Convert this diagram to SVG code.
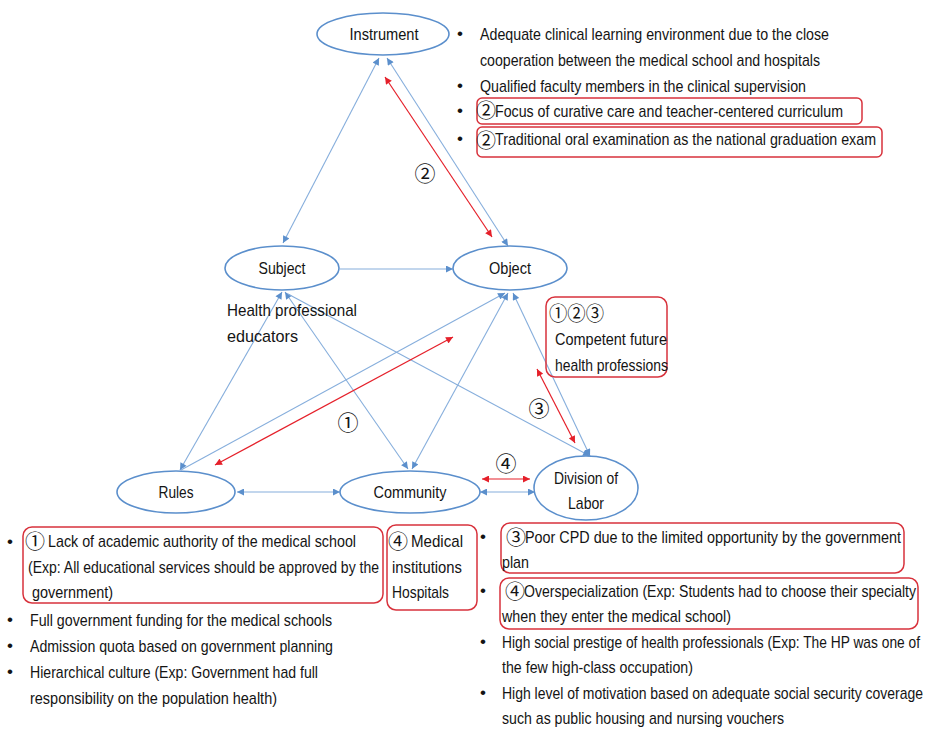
<svg xmlns="http://www.w3.org/2000/svg" width="930" height="731" viewBox="0 0 930 731">
  <style>
    text { font-family: "Liberation Sans", "Noto Sans CJK JP", sans-serif; fill: #141414; }
    .lbl { font-size: 17px; text-anchor: middle; }
    .txt { font-size: 17px; }
    .cd { font-family: "Noto Sans CJK JP", "DejaVu Sans", sans-serif; font-size: 20px; }
    .num { font-family: "Noto Sans CJK JP", "DejaVu Sans", sans-serif; font-size: 21px; text-anchor: middle; }
    .node { fill: #ffffff; stroke: #5b8fcc; stroke-width: 1.6; }
    .link { stroke: #86aedc; stroke-width: 1.1; fill: none; }
    .hot { stroke: #e5202a; stroke-width: 1.2; fill: none; }
    .box { fill: none; stroke: #d8323c; stroke-width: 1.5; }
  </style>
  <defs>
    <marker id="ab" viewBox="0 0 10 10" refX="10" refY="5" markerWidth="8" markerHeight="7" markerUnits="userSpaceOnUse" orient="auto-start-reverse">
      <path d="M0,0 L10,5 L0,10 z" fill="#5b8fcc"/>
    </marker>
    <marker id="ar" viewBox="0 0 10 10" refX="10" refY="5" markerWidth="8" markerHeight="7" markerUnits="userSpaceOnUse" orient="auto-start-reverse">
      <path d="M0,0 L10,5 L0,10 z" fill="#e5202a"/>
    </marker>
  </defs>
  <rect width="930" height="731" fill="#ffffff"/>

  <!-- connectors -->
  <g id="connectors">
    <line class="link" x1="379" y1="58" x2="283" y2="243" marker-start="url(#ab)" marker-end="url(#ab)"/>
    <line class="link" x1="387" y1="58" x2="508" y2="246" marker-start="url(#ab)" marker-end="url(#ab)"/>
    <line class="hot" x1="385" y1="77" x2="492" y2="237" marker-start="url(#ar)" marker-end="url(#ar)"/>
    <line class="link" x1="340" y1="269" x2="453" y2="269" marker-end="url(#ab)"/>
    <line class="link" x1="282" y1="292" x2="180" y2="470" marker-start="url(#ab)" marker-end="url(#ab)"/>
    <line class="link" x1="285" y1="292" x2="408" y2="469" marker-start="url(#ab)" marker-end="url(#ab)"/>
    <line class="link" x1="288" y1="294" x2="590" y2="456" marker-end="url(#ab)"/>
    <line class="link" x1="505" y1="293" x2="181" y2="470" marker-start="url(#ab)"/>
    <line class="link" x1="508" y1="293" x2="412" y2="469" marker-start="url(#ab)" marker-end="url(#ab)"/>
    <line class="link" x1="513" y1="293" x2="590" y2="456" marker-start="url(#ab)" marker-end="url(#ab)"/>
    <line class="hot" x1="215" y1="465" x2="453" y2="337" marker-start="url(#ar)" marker-end="url(#ar)"/>
    <line class="hot" x1="537" y1="369" x2="575" y2="443" marker-start="url(#ar)" marker-end="url(#ar)"/>
    <line class="link" x1="237" y1="492" x2="340" y2="492" marker-start="url(#ab)" marker-end="url(#ab)"/>
    <line class="link" x1="480" y1="492" x2="535" y2="492" marker-start="url(#ab)" marker-end="url(#ab)"/>
    <line class="hot" x1="482" y1="479" x2="530" y2="479" marker-start="url(#ar)" marker-end="url(#ar)"/>
    <text class="num" x="425" y="181">②</text>
    <text class="num" x="348" y="430">①</text>
    <text class="num" x="539" y="416">③</text>
    <text class="num" x="506" y="471">④</text>
  </g>

  <!-- nodes -->
  <g id="instrument">
    <ellipse class="node" cx="383" cy="34" rx="66" ry="21"/>
    <text class="lbl" x="384" y="40" textLength="69" lengthAdjust="spacingAndGlyphs">Instrument</text>
  </g>
  <g id="subject">
    <ellipse class="node" cx="282" cy="268" rx="57" ry="22"/>
    <text class="lbl" x="282" y="274" textLength="47" lengthAdjust="spacingAndGlyphs">Subject</text>
  </g>
  <g id="object">
    <ellipse class="node" cx="510" cy="268" rx="57" ry="22"/>
    <text class="lbl" x="510" y="274" textLength="42" lengthAdjust="spacingAndGlyphs">Object</text>
  </g>
  <g id="rules">
    <ellipse class="node" cx="176" cy="492" rx="59" ry="21"/>
    <text class="lbl" x="176" y="498" textLength="35" lengthAdjust="spacingAndGlyphs">Rules</text>
  </g>
  <g id="community">
    <ellipse class="node" cx="410" cy="492" rx="70" ry="21"/>
    <text class="lbl" x="410" y="498" textLength="73" lengthAdjust="spacingAndGlyphs">Community</text>
  </g>
  <g id="division">
    <ellipse class="node" cx="586" cy="488" rx="52" ry="32"/>
    <text class="lbl" x="586" y="484" textLength="64" lengthAdjust="spacingAndGlyphs">Division of</text>
    <text class="lbl" x="586" y="509" textLength="36" lengthAdjust="spacingAndGlyphs">Labor</text>
  </g>

  <!-- subject caption -->
  <g id="subject-note">
    <text class="txt" x="227" y="316" textLength="130" lengthAdjust="spacingAndGlyphs">Health professional</text>
    <text class="txt" x="227" y="342" textLength="71" lengthAdjust="spacingAndGlyphs">educators</text>
  </g>

  <!-- object note -->
  <g id="object-note">
    <rect class="box" x="546" y="297" width="121" height="80" rx="9"/>
    <text class="cd" x="549" y="321" textLength="55" lengthAdjust="spacingAndGlyphs">①②③</text>
    <text class="txt" x="555" y="345" textLength="112" lengthAdjust="spacingAndGlyphs">Competent future</text>
    <text class="txt" x="555" y="371" textLength="113" lengthAdjust="spacingAndGlyphs">health professions</text>
  </g>

  <!-- instrument notes -->
  <g id="instrument-notes">
    <rect class="box" x="477" y="98" width="385" height="26" rx="5"/>
    <rect class="box" x="477" y="127" width="405" height="30" rx="5"/>
    <text class="txt" x="457" y="39">•</text>
    <text class="txt" x="480" y="40" textLength="349" lengthAdjust="spacingAndGlyphs">Adequate clinical learning environment due to the close</text>
    <text class="txt" x="480" y="66" textLength="340" lengthAdjust="spacingAndGlyphs">cooperation between the medical school and hospitals</text>
    <text class="txt" x="457" y="91">•</text>
    <text class="txt" x="480" y="92" textLength="326" lengthAdjust="spacingAndGlyphs">Qualified faculty members in the clinical supervision</text>
    <text class="txt" x="457" y="116">•</text>
    <text class="cd" x="476" y="118">②</text>
    <text class="txt" x="495" y="117" textLength="348" lengthAdjust="spacingAndGlyphs">Focus of curative care and teacher-centered curriculum</text>
    <text class="txt" x="457" y="144">•</text>
    <text class="cd" x="476" y="148">②</text>
    <text class="txt" x="495" y="145" textLength="381" lengthAdjust="spacingAndGlyphs">Traditional oral examination as the national graduation exam</text>
  </g>

  <!-- rules notes -->
  <g id="rules-notes">
    <rect class="box" x="23" y="527" width="360" height="76" rx="9"/>
    <text class="txt" x="7" y="547">•</text>
    <text class="cd" x="25" y="549">①</text>
    <text class="txt" x="48" y="547" textLength="308" lengthAdjust="spacingAndGlyphs">Lack of academic authority of the medical school</text>
    <text class="txt" x="28" y="573" textLength="351" lengthAdjust="spacingAndGlyphs">(Exp: All educational services should be approved by the</text>
    <text class="txt" x="32" y="598" textLength="81" lengthAdjust="spacingAndGlyphs">government)</text>
    <text class="txt" x="7" y="625">•</text>
    <text class="txt" x="30" y="626" textLength="302" lengthAdjust="spacingAndGlyphs">Full government funding for the medical schools</text>
    <text class="txt" x="7" y="651">•</text>
    <text class="txt" x="30" y="652" textLength="303" lengthAdjust="spacingAndGlyphs">Admission quota based on government planning</text>
    <text class="txt" x="7" y="677">•</text>
    <text class="txt" x="30" y="678" textLength="288" lengthAdjust="spacingAndGlyphs">Hierarchical culture (Exp: Government had full</text>
    <text class="txt" x="30" y="704" textLength="247" lengthAdjust="spacingAndGlyphs">responsibility on the population health)</text>
  </g>

  <!-- community notes -->
  <g id="community-notes">
    <rect class="box" x="387" y="525" width="90" height="85" rx="9"/>
    <text class="cd" x="388" y="549">④</text>
    <text class="txt" x="411" y="547" textLength="52" lengthAdjust="spacingAndGlyphs">Medical</text>
    <text class="txt" x="392" y="573" textLength="70" lengthAdjust="spacingAndGlyphs">institutions</text>
    <text class="txt" x="392" y="598" textLength="57" lengthAdjust="spacingAndGlyphs">Hospitals</text>
  </g>

  <!-- division of labor notes -->
  <g id="division-notes">
    <rect class="box" x="501" y="523" width="403" height="50" rx="9"/>
    <rect class="box" x="500" y="578" width="418" height="51" rx="9"/>
    <text class="txt" x="480" y="542">•</text>
    <text class="cd" x="506" y="545">③</text>
    <text class="txt" x="525" y="543" textLength="376" lengthAdjust="spacingAndGlyphs">Poor CPD due to the limited opportunity by the government</text>
    <text class="txt" x="502" y="568" textLength="27" lengthAdjust="spacingAndGlyphs">plan</text>
    <text class="txt" x="480" y="596">•</text>
    <text class="cd" x="505" y="599">④</text>
    <text class="txt" x="524" y="597" textLength="392" lengthAdjust="spacingAndGlyphs">Overspecialization (Exp: Students had to choose their specialty</text>
    <text class="txt" x="502" y="622" textLength="229" lengthAdjust="spacingAndGlyphs">when they enter the medical school)</text>
    <text class="txt" x="480" y="647">•</text>
    <text class="txt" x="502" y="648" textLength="418" lengthAdjust="spacingAndGlyphs">High social prestige of health professionals (Exp: The HP was one of</text>
    <text class="txt" x="502" y="673" textLength="191" lengthAdjust="spacingAndGlyphs">the few high-class occupation)</text>
    <text class="txt" x="480" y="698">•</text>
    <text class="txt" x="502" y="699" textLength="421" lengthAdjust="spacingAndGlyphs">High level of motivation based on adequate social security coverage</text>
    <text class="txt" x="502" y="724" textLength="282" lengthAdjust="spacingAndGlyphs">such as public housing and nursing vouchers</text>
  </g>
</svg>
